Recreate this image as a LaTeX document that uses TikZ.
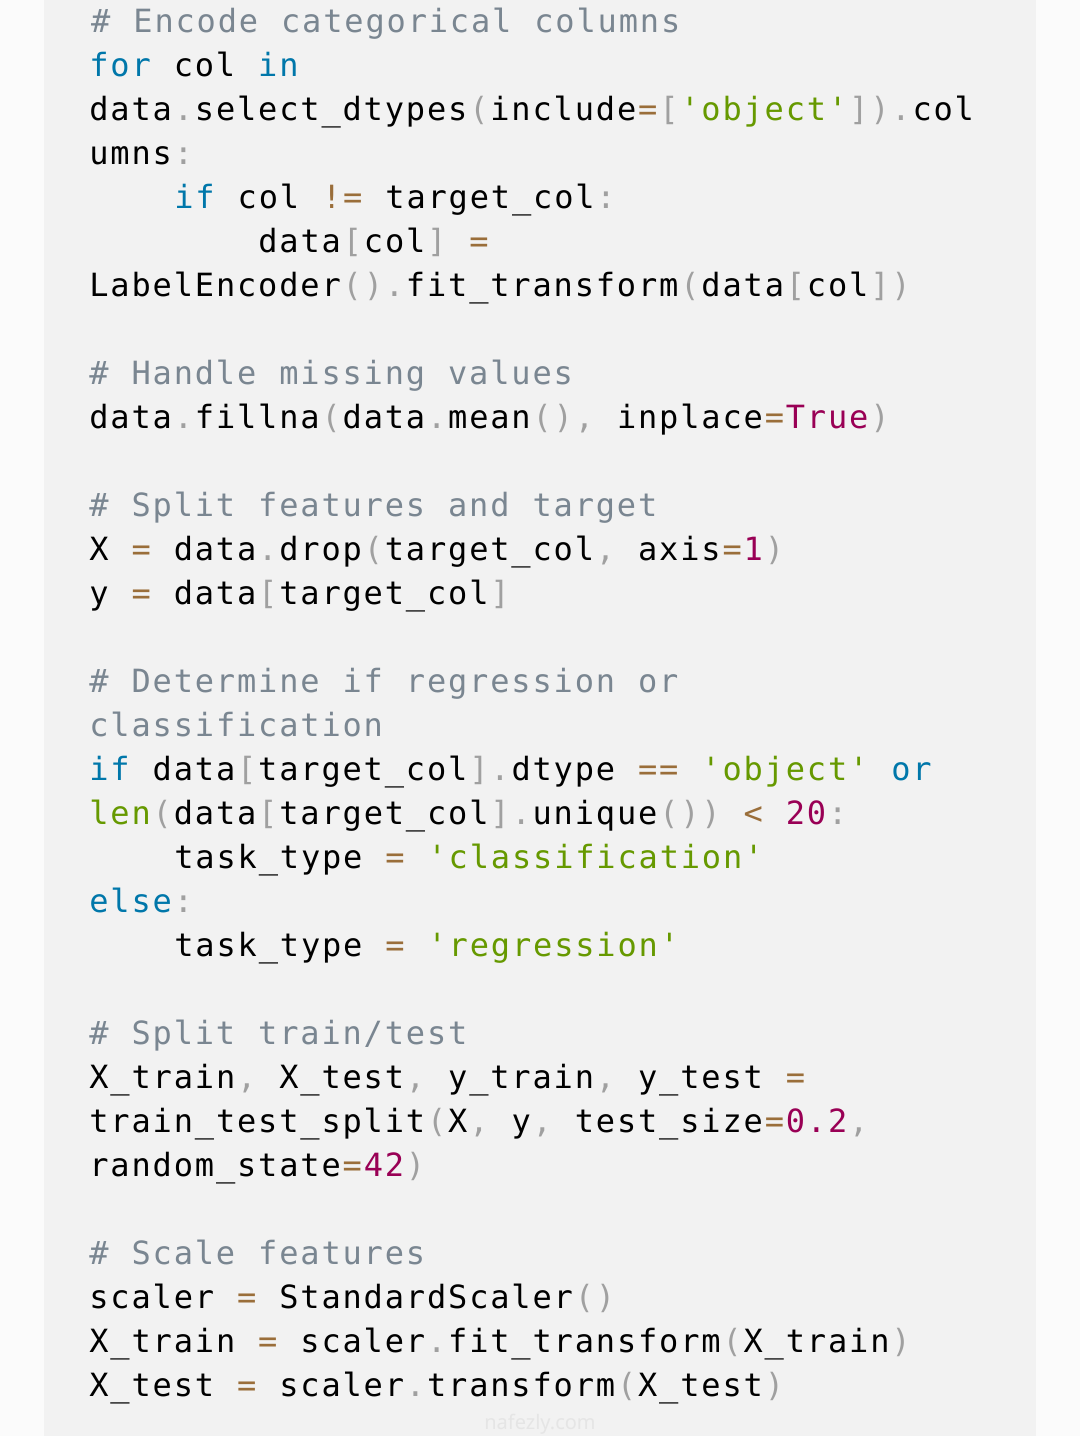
\documentclass[tikz,border=0pt]{standalone}
\usepackage{fontspec}
\setmonofont{DejaVu Sans Mono}
\newfontfamily\markfont{Noto Sans}
\definecolor{panelgray}{HTML}{F2F2F2}
\definecolor{outgray}{HTML}{FBFBFB}
\definecolor{cmtcol}{HTML}{7A8691}
\definecolor{kwcol}{HTML}{0077AA}
\definecolor{strcol}{HTML}{669900}
\definecolor{numcol}{HTML}{990055}
\definecolor{opcol}{HTML}{9A6E3A}
\definecolor{pucol}{HTML}{A0A0A0}
\newcommand{\cm}[1]{\textcolor{cmtcol}{#1}}
\newcommand{\kw}[1]{\textcolor{kwcol}{#1}}
\newcommand{\st}[1]{\textcolor{strcol}{#1}}
\newcommand{\nm}[1]{\textcolor{numcol}{#1}}
\newcommand{\op}[1]{\textcolor{opcol}{#1}}
\newcommand{\pu}[1]{\textcolor{pucol}{#1}}
% letter spacing of the code font: every character gets a fixed cell
\newdimen\trackamt \trackamt=0.92pt
\XeTeXinterchartoks 0 0 {\kern\trackamt}
\XeTeXinterchartoks 0 4095 {\kern\trackamt}
\newcommand{\codesetup}{\ttfamily\fontsize{16}{20}\selectfont\frenchspacing
  \spaceskip=10.55pt\relax\XeTeXinterchartokenstate=1 }
\tikzset{
  panel/.style={fill=panelgray,draw=none},
  codeline/.style={anchor=base west,inner sep=0pt,font=\codesetup,text=black},
  watermark/.style={inner sep=0pt,font=\markfont\fontsize{10}{11}\selectfont,text=black!10}
}
\begin{document}
\begin{tikzpicture}[x=0.5pt,y=-0.5pt]
      \useasboundingbox[fill=outgray] (0,0) rectangle (1080,1436);
      \fill[panel] (44,0) rectangle (1036,1436);
      % encode categorical columns
      \node[codeline] (l1) at (89,32) {\cm{\# Encode categorical columns}};
      \node[codeline] (l2) at (89,76) {\kw{for} col \kw{in}};
      \node[codeline] (l3) at (89,120) {data\pu{.}select\_dtypes\pu{(}include\op{=}\pu{[}\st{'object'}\pu{])}\pu{.}col};
      \node[codeline] (l4) at (89,164) {umns\pu{:}};
      \node[codeline] (l5) at (174,208) {\kw{if} col \op{!=} target\_col\pu{:}};
      \node[codeline] (l6) at (258,252) {data\pu{[}col\pu{]} \op{=}};
      \node[codeline] (l7) at (89,296) {LabelEncoder\pu{()}\pu{.}fit\_transform\pu{(}data\pu{[}col\pu{])}};
      % missing values
      \node[codeline] (l9) at (89,384) {\cm{\# Handle missing values}};
      \node[codeline] (l10) at (89,428) {data\pu{.}fillna\pu{(}data\pu{.}mean\pu{()}\pu{,} inplace\op{=}\nm{True}\pu{)}};
      % features and target
      \node[codeline] (l12) at (89,516) {\cm{\# Split features and target}};
      \node[codeline] (l13) at (89,560) {X \op{=} data\pu{.}drop\pu{(}target\_col\pu{,} axis\op{=}\nm{1}\pu{)}};
      \node[codeline] (l14) at (89,604) {y \op{=} data\pu{[}target\_col\pu{]}};
      % task type
      \node[codeline] (l16) at (89,692) {\cm{\# Determine if regression or}};
      \node[codeline] (l17) at (89,736) {\cm{classification}};
      \node[codeline] (l18) at (89,780) {\kw{if} data\pu{[}target\_col\pu{]}\pu{.}dtype \op{==} \st{'object'} \kw{or}};
      \node[codeline] (l19) at (89,824) {\st{len}\pu{(}data\pu{[}target\_col\pu{]}\pu{.}unique\pu{())} \op{<} \nm{20}\pu{:}};
      \node[codeline] (l20) at (174,868) {task\_type \op{=} \st{'classification'}};
      \node[codeline] (l21) at (89,912) {\kw{else}\pu{:}};
      \node[codeline] (l22) at (174,956) {task\_type \op{=} \st{'regression'}};
      % train/test split
      \node[codeline] (l24) at (89,1044) {\cm{\# Split train/test}};
      \node[codeline] (l25) at (89,1088) {X\_train\pu{,} X\_test\pu{,} y\_train\pu{,} y\_test \op{=}};
      \node[codeline] (l26) at (89,1132) {train\_test\_split\pu{(}X\pu{,} y\pu{,} test\_size\op{=}\nm{0.2}\pu{,}};
      \node[codeline] (l27) at (89,1176) {random\_state\op{=}\nm{42}\pu{)}};
      % scaling
      \node[codeline] (l29) at (89,1264) {\cm{\# Scale features}};
      \node[codeline] (l30) at (89,1308) {scaler \op{=} StandardScaler\pu{()}};
      \node[codeline] (l31) at (89,1352) {X\_train \op{=} scaler\pu{.}fit\_transform\pu{(}X\_train\pu{)}};
      \node[codeline] (l32) at (89,1396) {X\_test \op{=} scaler\pu{.}transform\pu{(}X\_test\pu{)}};
      \node[watermark] (mark) at (540,1424) {nafezly.com};
    \end{tikzpicture}
\end{document}
